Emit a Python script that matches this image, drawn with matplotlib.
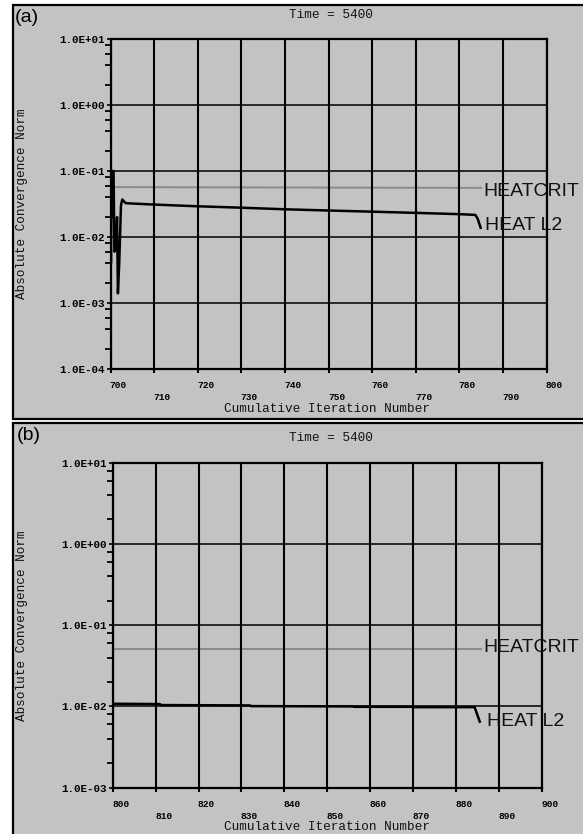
import matplotlib
matplotlib.use('Agg')
import matplotlib.pyplot as plt
import matplotlib.transforms as mtransforms
from matplotlib.patches import Rectangle
from matplotlib.ticker import LogLocator, FuncFormatter, NullFormatter

# panel (a): iterations 700-800
a_crit_iter = [700.0, 742.0, 785.0]
a_crit_val = [0.057, 0.0562, 0.0555]
a_l2_iter = [699.9, 700.0, 700.1, 700.2, 700.35, 700.5, 700.7, 700.9, 701.2, 701.5,
             701.7, 702.0, 702.4, 702.7, 703.5, 710, 720, 730, 740, 750, 760, 770,
             780, 783.7, 784.2, 784.9]
a_l2_val = [0.0013, 0.02, 0.004, 0.05, 0.02, 0.1, 0.1, 0.006, 0.0065, 0.02,
            0.0014, 0.004, 0.03, 0.037, 0.0325, 0.031, 0.0292, 0.0278, 0.0263, 0.0252,
            0.0242, 0.0232, 0.0222, 0.0216, 0.019, 0.0138]

# panel (b): iterations 800-900
b_crit_iter = [800.0, 843.0, 885.8]
b_crit_val = [0.0509, 0.0509, 0.0509]
b_l2_iter = [800.0, 811.0, 811.2, 832.0, 832.2, 856.0, 856.2, 870.0, 870.2, 884.3, 885.5]
b_l2_val = [0.0108, 0.0107, 0.0104, 0.0103, 0.0101, 0.0100, 0.0099, 0.0099, 0.0098,
            0.0098, 0.0065]

W, H = 583, 834
BG = '#c3c3c3'
MONO = 'Liberation Mono'
SANS = 'Liberation Sans'

plt.rcParams['font.family'] = MONO

fig = plt.figure(figsize=(W / 100, H / 100), dpi=100)
fig.patch.set_facecolor('white')


def fx(x):
    return x / W


def fy(y):
    return 1 - y / H


# grey panel frames, kept behind the axes
for top, bot in [(5, 419), (423, 845)]:
    fig.patches.append(Rectangle((fx(13), fy(bot)), 1.0, (bot - top) / H,
                                 transform=fig.transFigure, facecolor=BG,
                                 edgecolor='black', lw=1.6, zorder=-5))


def panel(box, x0, ylo, crit_x, crit_y, l2_x, l2_y, tag, tag_xy, title_y,
          xlab_y, crit_txt, l2_txt):
    l, t, r, b = box
    ax = fig.add_axes([fx(l), fy(b), (r - l) / W, (b - t) / H])
    ax.set_zorder(2)
    ax.set_facecolor(BG)
    ax.set_yscale('log')
    ax.set_xlim(x0, x0 + 100)
    ax.set_ylim(ylo, 10)

    ax.plot(crit_x, crit_y, color='#8a8a8a', lw=1.4, zorder=2)
    ax.plot(l2_x, l2_y, color='black', lw=1.8, zorder=2)

    ax.set_axisbelow(False)
    ax.grid(True, which='major', axis='x', color='black', lw=1.5)
    ax.grid(True, which='major', axis='y', color='black', lw=1.1)
    for s in ax.spines.values():
        s.set_linewidth(1.6)

    ticks = list(range(x0, x0 + 101, 10))
    labels = [str(v) if i % 2 == 0 else '\n' + str(v) for i, v in enumerate(ticks)]
    ax.set_xticks(ticks)
    ax.set_xticklabels(labels)
    ax.tick_params(axis='x', direction='out', length=3, width=1.5, pad=6,
                   labelsize=6.8)
    off = mtransforms.ScaledTranslation(8 / 100, 0, fig.dpi_scale_trans)
    for lbl in ax.get_xticklabels():
        lbl.set_transform(lbl.get_transform() + off)
        lbl.set_linespacing(1.4)
        lbl.set_fontweight('bold')

    ax.yaxis.set_major_locator(LogLocator(base=10))
    ax.yaxis.set_major_formatter(FuncFormatter(lambda v, p: f'{v:.1E}'))
    ax.yaxis.set_minor_locator(LogLocator(base=10, subs=(2, 4, 6, 8)))
    ax.yaxis.set_minor_formatter(NullFormatter())
    ax.tick_params(axis='y', which='major', direction='out', length=3, width=1.2,
                   pad=1, labelsize=7.8)
    ax.tick_params(axis='y', which='minor', direction='out', length=4, width=1.3)
    for lbl in ax.get_yticklabels():
        lbl.set_fontweight('bold')

    fig.text(fx(22), fy((t + b) / 2), 'Absolute Convergence Norm', rotation=90,
             ha='center', va='center', fontsize=9.2, color='#111111')
    fig.text(fx(331), fy(title_y), 'Time = 5400', ha='center', va='center',
             fontsize=9.2, color='#111111')
    fig.text(fx(327), fy(xlab_y), 'Cumulative Iteration Number', ha='center',
             va='center', fontsize=9.2, color='#111111')
    fig.text(fx(tag_xy[0]), fy(tag_xy[1]), tag, ha='left', va='center',
             fontsize=14, family=SANS)
    fig.text(fx(crit_txt[0]), fy(crit_txt[1]), 'HEATCRIT', ha='left', va='center',
             fontsize=14, family=SANS, color='#111111', zorder=5)
    fig.text(fx(l2_txt[0]), fy(l2_txt[1]), 'HEAT L2', ha='left', va='center',
             fontsize=14, family=SANS, color='#111111', zorder=5)
    return ax


panel((110.5, 39, 546.5, 369), 700, 1e-4, a_crit_iter, a_crit_val,
      a_l2_iter, a_l2_val, '(a)', (15, 18), 15, 409, (483, 192), (485, 225))
panel((112.7, 462.7, 542, 787.7), 800, 1e-3, b_crit_iter, b_crit_val,
      b_l2_iter, b_l2_val, '(b)', (17, 435), 438, 827, (483, 648), (487, 722))

fig.savefig('out.png', dpi=100, facecolor=fig.get_facecolor())
